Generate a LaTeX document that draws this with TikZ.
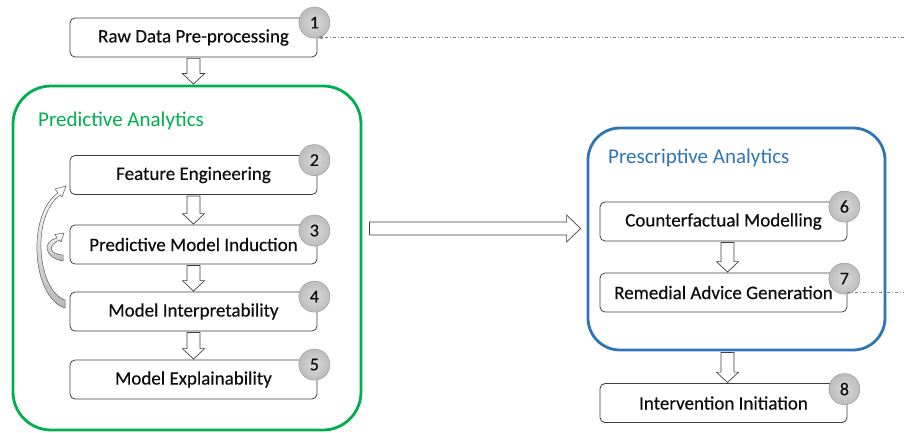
\documentclass[tikz,border=0pt]{standalone}
\usepackage{fontspec}
\setmainfont{Carlito}
\newfontfamily\boxfont{Carlito}[FakeBold=0.35]
\usetikzlibrary{calc,arrows.meta}
\definecolor{pgreen}{HTML}{00B050}
\definecolor{pblue}{HTML}{2E75B6}
\definecolor{boxline}{HTML}{404040}
\definecolor{txt}{HTML}{0D0D0D}
\definecolor{badgein}{HTML}{D8D8D8}
\definecolor{badgeout}{HTML}{BDBDBD}
\definecolor{badgeline}{HTML}{A0A0A0}
\definecolor{dotline}{HTML}{7F7F7F}
\newcommand\vblock[2]{\draw[blk] let \p1=(#1), \p2=(#2) in
  (\x1-6.5pt,\y1-1pt) -- (\x1+6.5pt,\y1-1pt) -- (\x1+6.5pt,\y2+11pt) -- (\x1+11pt,\y2+11pt)
  -- (\x1,\y2+0.5pt) -- (\x1-11pt,\y2+11pt) -- (\x1-6.5pt,\y2+11pt) -- cycle;}
\begin{document}
\begin{tikzpicture}[x=1pt,y=-1pt,
  stepbox/.style={draw=boxline, line width=0.8pt, rounded corners=5pt, fill=white,
    minimum width=247pt, minimum height=39pt, inner sep=0pt,
    font=\boxfont\fontsize{19}{21}\selectfont, text=txt},
  badge/.style={circle, draw=badgeline, line width=0.6pt, inner color=badgein, outer color=badgeout,
    minimum size=31pt, inner sep=0pt, font=\boxfont\fontsize{18}{20}\selectfont, text=txt},
  container/.style={line width=2.8pt, rounded corners=38pt, inner sep=0pt},
  blk/.style={draw=boxline, line width=0.7pt, fill=white},
  curvearrow/.style={draw=gray!70!black, line width=0.5pt, top color=white, bottom color=gray!55},
  dd/.style={draw=dotline, line width=0.8pt, dash pattern=on 3pt off 2pt on 1pt off 2pt},
  title/.style={anchor=base west, inner sep=0pt, font=\fontsize{21}{24}\selectfont}]
\useasboundingbox (0,0) rectangle (904,433);

% containers
\node[container, draw=pgreen, minimum width=348pt, minimum height=344pt] (green) at (187,258) {};
\node[container, draw=pblue, minimum width=297pt, minimum height=222pt, rounded corners=32pt] (blue) at (736.5,239) {};
\node[title, text=pgreen] (ptitle) at (38,126) {Predictive Analytics};
\node[title, text=pblue] (stitle) at (608,163) {Prescriptive Analytics};

% boxes
\node[stepbox] (b1) at (193.5,37.5) {Raw Data Pre-processing};
\node[stepbox] (b2) at (193.5,175) {Feature Engineering};
\node[stepbox] (b3) at (193.5,244.5) {Predictive Model Induction};
\node[stepbox] (b4) at (193.5,311.5) {Model Interpretability};
\node[stepbox] (b5) at (193.5,379.5) {Model Explainability};
\node[stepbox] (b6) at (723.5,221.5) {Counterfactual Modelling};
\node[stepbox] (b7) at (723.5,292.5) {Remedial Advice Generation};
\node[stepbox] (b8) at (723.5,403) {Intervention Initiation};

% block arrows
\vblock{b1.south}{green.north}
\vblock{b2.south}{b3.north}
\vblock{b3.south}{b4.north}
\vblock{b4.south}{b5.north}
\vblock{$(b6.south)+(4,0)$}{b7.north}
\vblock{$(blue.south -| b8.north)+(4,0)$}{b8.north}
\coordinate (hy) at (0,228.5);
\draw[blk] let \p1=(green.east |- hy), \p2=(blue.west) in
  (\x1+7pt,\y1+6.5pt) -- (\x2-20pt,\y1+6.5pt) -- (\x2-20pt,\y1+13.5pt) -- (\x2-6pt,\y1)
  -- (\x2-20pt,\y1-13.5pt) -- (\x2-20pt,\y1-6.5pt) -- (\x1+7pt,\y1-6.5pt) -- cycle;

% curved feedback arrows
\draw[curvearrow] (65,308) .. controls (32,298) and (26,215) .. (58,193)
  -- (55,189) -- (66,186) -- (62,197) -- (60,195)
  .. controls (31,216) and (37,290) .. (65,300) -- cycle;
\draw[curvearrow] (63,261) .. controls (45,258) and (41,242) .. (57,238)
  -- (55,234.5) -- (64,233) -- (61,242) -- (59.5,240)
  .. controls (48,245) and (48,254) .. (63,255) -- cycle;

% badges
\node[badge] (n1) at ($(b1.north east)+(-3,5)$) {1};
\node[badge] (n2) at ($(b2.north east)+(-3,5)$) {2};
\node[badge] (n3) at ($(b3.north east)+(-3,6)$) {3};
\node[badge] (n4) at ($(b4.north east)+(-3,5)$) {4};
\node[badge] (n5) at ($(b5.north east)+(-3,5)$) {5};
\node[badge] (n6) at ($(b6.north east)+(-3,5)$) {6};
\node[badge] (n7) at ($(b7.north east)+(-3,6)$) {7};
\node[badge] (n8) at ($(b8.north east)+(-3,6)$) {8};

% dash-dot loop lines
\coordinate (redge) at (904,0);
\draw[dd, -{Latex[length=5pt,width=4pt]}] (b1.east -| redge) -- (b1.east);
\draw[dd] (b7.east) -- (b7.east -| redge);
\end{tikzpicture}
\end{document}
